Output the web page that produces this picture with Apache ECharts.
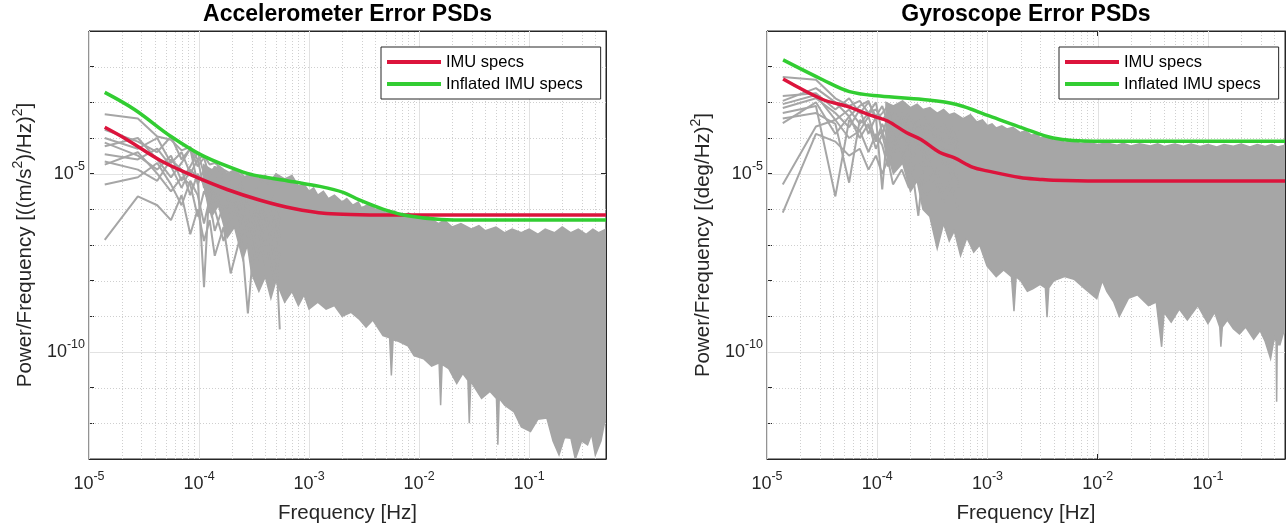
<!DOCTYPE html>
<html>
<head>
<meta charset="utf-8">
<script src="https://cdn.jsdelivr.net/npm/echarts@6/dist/echarts.min.js"></script>
<style>
html,body{margin:0;padding:0;background:#fff;}
#c{width:1288px;height:529px;}
</style>
</head>
<body>
<div id="c"></div>
<script>
// ---------------- DATA ----------------
const xTickLabels = ['10^-5','10^-4','10^-3','10^-2','10^-1'];
const yTickLabels = ['10^-5','10^-10'];
const xTickValues = [1e-5, 1e-4, 1e-3, 1e-2, 1e-1];
const yTickValues = [1e-5, 1e-10];
const yDecades = [1e-13, 1e-12, 1e-11, 1e-10, 1e-9, 1e-8, 1e-7, 1e-6, 1e-5, 1e-4, 1e-3, 1e-2, 1e-1];

// low-frequency PSD bins (individual gray lines)
const lowFreq = [1.39e-5, 2.78e-5, 4.17e-5, 5.56e-5, 6.94e-5, 8.33e-5, 9.72e-5, 1.11e-4, 1.25e-4, 1.39e-4, 1.67e-4, 1.94e-4, 2.36e-4, 2.78e-4, 3.33e-4, 4.03e-4, 4.86e-4, 5.42e-4];

// Accelerometer gray PSD lines
const accLow1 = [4.6e-4, 3.5e-4, 1.1e-4, 8.9e-5, 4.5e-5, 5.6e-5, 2.5e-5, 3.2e-5, 1.8e-5, 2.0e-5, 1.3e-5, 1.0e-5, 1.1e-5, 6.3e-6, 7.9e-6, 5.0e-6, 6.3e-6, 4.0e-6];
const accLow2 = [1.7e-4, 7.9e-5, 4.0e-5, 1.1e-4, 2.5e-5, 5.0e-5, 1.6e-5, 2.8e-5, 7.9e-6, 1.6e-5, 5.0e-6, 2.5e-6, 6.3e-6, 1.3e-6, 4.0e-6, 5.0e-7, 2.5e-6, 1.0e-6];
const accLow3 = [1.0e-4, 5.0e-5, 1.0e-4, 2.0e-5, 4.0e-5, 1.0e-5, 2.5e-5, 4.0e-6, 1.3e-5, 2.5e-6, 6.3e-6, 7.9e-7, 3.2e-6, 1.3e-6, 2.5e-7, 2.0e-6, 4.0e-7, 1.0e-6];
const accLow4 = [7.4e-5, 3.2e-5, 1.3e-5, 3.2e-5, 6.3e-6, 1.6e-5, 4.0e-5, 1.0e-5, 2.0e-6, 7.9e-6, 3.2e-6, 6.3e-6, 4.0e-7, 2.5e-6, 1.0e-6, 1.0e-7, 1.6e-6, 2.5e-7];
const accLow5 = [5.9e-5, 1.0e-4, 2.5e-5, 7.9e-6, 2.0e-5, 5.0e-5, 5.0e-6, 1.3e-5, 1.0e-5, 1.0e-6, 4.0e-6, 1.6e-6, 5.0e-6, 1.6e-7, 1.3e-6, 6.3e-7, 4.0e-8, 7.9e-7];
const accLow6 = [3.5e-5, 2.5e-5, 5.0e-5, 1.6e-5, 4.0e-6, 1.3e-5, 7.9e-6, 6.6e-9, 6.3e-6, 3.2e-6, 6.3e-7, 2.5e-6, 1.0e-6, 4.0e-7, 1.6e-6, 1.0e-7, 5.0e-7, 4.3e-10];
const accLow7 = [2.2e-5, 1.3e-5, 6.3e-6, 2.5e-5, 1.3e-5, 2.5e-6, 1.0e-5, 5.0e-6, 7.9e-7, 4.0e-6, 1.0e-5, 2.0e-6, 5.0e-7, 1.2e-9, 7.9e-7, 3.2e-7, 1.0e-6, 1.6e-7];
const accLow8 = [1.8e-5, 4.0e-5, 1.0e-5, 3.2e-6, 7.9e-6, 5.0e-6, 6.3e-7, 3.2e-6, 1.6e-6, 2.5e-7, 1.3e-6, 5.0e-7, 2.5e-6, 1.0e-6, 6.3e-8, 4.0e-7, 1.3e-7, 6.3e-7];
const accLow9 = [5.0e-6, 7.9e-6, 2.0e-5, 5.0e-6, 1.3e-6, 6.3e-6, 2.5e-6, 4.0e-7, 2.0e-6, 1.0e-6, 1.3e-7, 6.3e-7, 2.0e-6, 2.5e-7, 5.0e-7, 2.5e-8, 3.2e-7, 1.0e-7];
const accLow10 = [1.4e-7, 2.3e-6, 1.3e-6, 5.0e-7, 2.5e-6, 2.0e-7, 1.0e-6, 1.3e-7, 5.0e-7, 5.0e-8, 3.2e-7, 1.6e-8, 1.6e-7, 4.0e-7, 3.2e-8, 1.3e-7, 1.0e-8, 6.3e-8];

// Accelerometer dense band (upper / lower edge of the gray mass)
const accUpperFreq = [1.1e-4, 1.3e-4, 1.5e-4, 1.8e-4, 2.1e-4, 2.5e-4, 3e-4, 3.5e-4, 4e-4, 4.5e-4, 5e-4, 6e-4, 7e-4, 8e-4, 9e-4, 1e-3, 1.1e-3, 1.2e-3, 1.35e-3, 1.5e-3, 1.7e-3, 2e-3, 2.2e-3, 2.5e-3, 2.8e-3, 3e-3, 3.5e-3, 4e-3, 4.5e-3, 5e-3, 6e-3, 7e-3, 8e-3, 1e-2, 1.2e-2, 1.5e-2, 1.7e-2, 2e-2, 2.4e-2, 3e-2, 3.5e-2, 4e-2, 5e-2, 6e-2, 7e-2, 8.5e-2, 0.1, 0.12, 0.14, 0.17, 0.2, 0.24, 0.28, 0.33, 0.38, 0.43, 0.5];
const accUpper = [1.8e-5, 1.3e-5, 1.6e-5, 1.0e-5, 1.3e-5, 7.9e-6, 1.0e-5, 7.1e-6, 8.9e-6, 6.3e-6, 1.0e-5, 7.1e-6, 8.9e-6, 4.5e-6, 5.0e-6, 3.2e-6, 4.0e-6, 2.5e-6, 3.2e-6, 2.0e-6, 2.5e-6, 1.6e-6, 2.0e-6, 1.3e-6, 1.6e-6, 1.1e-6, 1.4e-6, 1.0e-6, 1.1e-6, 7.9e-7, 8.9e-7, 6.3e-7, 7.9e-7, 5.6e-7, 6.3e-7, 4.0e-7, 5.0e-7, 3.2e-7, 4.0e-7, 2.8e-7, 3.5e-7, 2.5e-7, 3.2e-7, 2.2e-7, 2.8e-7, 2.2e-7, 2.8e-7, 2.0e-7, 2.8e-7, 2.2e-7, 3.2e-7, 2.2e-7, 2.8e-7, 2.0e-7, 2.8e-7, 2.2e-7, 2.8e-7];
const accLowerFreq = [1.1e-4, 1.3e-4, 1.5e-4, 1.8e-4, 2.1e-4, 2.5e-4, 2.75e-4, 3e-4, 3.5e-4, 4e-4, 4.5e-4, 5e-4, 6e-4, 7e-4, 8e-4, 9e-4, 1e-3, 1.2e-3, 1.43e-3, 1.7e-3, 2e-3, 2.4e-3, 2.84e-3, 3.3e-3, 3.8e-3, 4.7e-3, 5.4e-3, 5.6e-3, 5.8e-3, 6.5e-3, 7.9e-3, 9e-3, 1.1e-2, 1.3e-2, 1.52e-2, 1.57e-2, 1.62e-2, 1.86e-2, 2.2e-2, 2.5e-2, 2.78e-2, 2.86e-2, 2.95e-2, 3.7e-2, 4.4e-2, 5.05e-2, 5.2e-2, 5.35e-2, 6e-2, 7.3e-2, 8.5e-2, 0.103, 0.12, 0.145, 0.165, 0.187, 0.21, 0.24, 0.263, 0.3, 0.34, 0.37, 0.40, 0.45, 0.5];
const accLower = [5.0e-6, 6.3e-7, 1.3e-6, 1.6e-7, 3.2e-7, 4.0e-8, 1.0e-7, 1.6e-8, 5.0e-9, 1.3e-8, 3.2e-9, 1.0e-8, 2.5e-9, 5.0e-9, 2.0e-9, 4.0e-9, 1.6e-9, 2.5e-9, 1.6e-9, 2.0e-9, 1.0e-9, 1.3e-9, 8.5e-10, 5.0e-10, 7.9e-10, 2.9e-10, 2.5e-10, 2.2e-11, 2.2e-10, 2.0e-10, 1.5e-10, 7.9e-11, 6.5e-11, 4.0e-11, 5.0e-11, 3.2e-12, 4.5e-11, 3.4e-11, 1.3e-11, 2.5e-11, 1.6e-11, 1.0e-12, 1.5e-11, 5.0e-12, 7.9e-12, 5.0e-12, 2.5e-13, 5.0e-12, 3.2e-12, 2.1e-12, 7.9e-13, 5.9e-13, 1.3e-12, 1.4e-12, 3.2e-13, 1.3e-13, 4.0e-13, 3.8e-13, 1.0e-13, 3.2e-13, 2.5e-13, 5.0e-13, 1.3e-13, 3.2e-13, 1.7e-12];

// Accelerometer spec curves
const accSpecFreq = [1.39e-5, 2.2e-5, 4.5e-5, 9e-5, 1.8e-4, 3.6e-4, 7.2e-4, 1.44e-3, 2.9e-3, 6e-3, 2e-2, 0.1, 0.5];
const accSpec = [2.0e-4, 9.1e-5, 2.3e-5, 8.5e-6, 3.6e-6, 1.8e-6, 1.05e-6, 7.6e-7, 7.1e-7, 6.9e-7, 6.9e-7, 6.9e-7, 6.9e-7];
const accInflFreq = [1.39e-5, 2.59e-5, 5.57e-5, 1.1e-4, 2.6e-4, 3.55e-4, 7.2e-4, 1.25e-3, 2.04e-3, 2.9e-3, 4.75e-3, 7.9e-3, 1.58e-2, 3e-2, 0.1, 0.5];
const accInfl = [1.9e-3, 6.3e-4, 1.1e-4, 3.1e-5, 1.07e-5, 8.5e-6, 5.9e-6, 4.4e-6, 3.0e-6, 1.8e-6, 1.0e-6, 6.6e-7, 5.2e-7, 5.0e-7, 5.0e-7, 5.0e-7];

// Gyroscope gray PSD lines
const gyrLow1 = [5.1e-3, 4.3e-3, 1.3e-3, 7.9e-4, 1.1e-3, 5.0e-4, 6.3e-4, 3.2e-4, 5.0e-4, 2.5e-4, 4.0e-4, 1.6e-4, 3.2e-4, 1.3e-4, 2.5e-4, 7.9e-5, 2.0e-4, 6.3e-5];
const gyrLow2 = [1.5e-3, 1.8e-3, 6.3e-4, 1.3e-3, 5.0e-4, 1.0e-3, 4.0e-4, 7.9e-4, 2.5e-4, 6.3e-4, 2.0e-4, 5.0e-4, 1.3e-4, 4.0e-4, 1.0e-4, 2.5e-4, 6.3e-5, 1.6e-4];
const gyrLow3 = [1.1e-3, 2.5e-3, 1.0e-3, 4.0e-4, 7.9e-4, 1.1e-3, 3.2e-4, 5.0e-4, 7.9e-4, 1.6e-4, 5.0e-4, 7.9e-5, 3.2e-4, 1.6e-4, 3.2e-5, 2.0e-4, 1.0e-4, 2.5e-5];
const gyrLow4 = [8.9e-4, 1.6e-3, 3.2e-4, 6.3e-4, 2.5e-4, 5.0e-4, 1.0e-3, 1.3e-4, 4.0e-4, 7.8e-4, 1.0e-4, 3.2e-4, 4.0e-5, 2.5e-4, 1.3e-4, 1.6e-5, 1.6e-4, 5.0e-5];
const gyrLow5 = [6.9e-4, 1.3e-3, 5.0e-4, 2.0e-4, 6.3e-4, 1.3e-4, 4.0e-4, 3.6e-6, 2.5e-4, 1.3e-4, 3.2e-4, 5.0e-5, 2.0e-4, 2.5e-5, 1.0e-4, 5.0e-5, 6.3e-6, 7.9e-5];
const gyrLow6 = [5.0e-4, 7.9e-4, 2.3e-6, 3.2e-4, 1.6e-4, 4.0e-4, 7.9e-5, 2.5e-4, 1.0e-4, 4.0e-5, 1.6e-4, 6.3e-5, 6.6e-7, 1.0e-4, 3.2e-5, 6.3e-5, 1.3e-5, 4.0e-5];
const gyrLow7 = [3.5e-4, 5.0e-4, 2.5e-4, 5.6e-6, 3.2e-4, 2.0e-4, 1.0e-4, 1.6e-4, 5.0e-5, 1.3e-4, 3.2e-5, 7.9e-5, 1.0e-4, 1.6e-5, 5.0e-5, 2.5e-5, 4.0e-5, 4.0e-6];
const gyrLow8 = [2.6e-4, 1.0e-3, 1.3e-4, 4.0e-4, 1.0e-4, 2.5e-4, 5.0e-5, 1.3e-4, 2.5e-5, 7.9e-5, 4.0e-5, 1.6e-5, 6.3e-5, 3.2e-5, 7.9e-6, 2.5e-5, 1.0e-5, 2.0e-5];
const gyrLow9 = [5.0e-6, 2.1e-4, 3.2e-4, 1.0e-4, 1.6e-4, 4.0e-5, 1.3e-4, 6.3e-5, 1.6e-5, 5.0e-5, 2.5e-5, 1.0e-5, 2.0e-5, 5.0e-6, 1.6e-5, 2.5e-6, 1.0e-5, 5.0e-6];
const gyrLow10 = [8.1e-7, 1.3e-4, 7.9e-5, 3.2e-5, 5.0e-5, 1.3e-5, 3.2e-5, 1.0e-5, 2.5e-5, 5.0e-6, 1.3e-5, 4.0e-6, 7.9e-6, 2.5e-6, 6.3e-6, 1.6e-6, 4.0e-6, 1.0e-6];

// Gyroscope dense band
const gyrUpperFreq = [1.2e-4, 1.4e-4, 1.7e-4, 2e-4, 2.3e-4, 2.6e-4, 3e-4, 3.5e-4, 4e-4, 4.5e-4, 5e-4, 6e-4, 7e-4, 8e-4, 9e-4, 1e-3, 1.1e-3, 1.2e-3, 1.35e-3, 1.5e-3, 1.7e-3, 2e-3, 2.2e-3, 2.5e-3, 2.8e-3, 3e-3, 3.5e-3, 4e-3, 4.5e-3, 5e-3, 6e-3, 7e-3, 8e-3, 1e-2, 1.2e-2, 1.5e-2, 1.7e-2, 2e-2, 2.4e-2, 3e-2, 3.5e-2, 4e-2, 5e-2, 6e-2, 7e-2, 8.5e-2, 0.1, 0.12, 0.14, 0.17, 0.2, 0.24, 0.28, 0.33, 0.38, 0.43, 0.5];
const gyrUpper = [1.0e-3, 7.9e-4, 1.1e-3, 7.1e-4, 8.9e-4, 6.3e-4, 7.1e-4, 5.0e-4, 6.3e-4, 4.5e-4, 5.0e-4, 3.5e-4, 4.5e-4, 2.8e-4, 3.2e-4, 2.2e-4, 2.5e-4, 1.9e-4, 2.2e-4, 1.8e-4, 2.0e-4, 1.4e-4, 1.6e-4, 1.2e-4, 1.3e-4, 1.0e-4, 1.1e-4, 8.5e-5, 9.5e-5, 7.6e-5, 8.3e-5, 6.9e-5, 7.6e-5, 6.6e-5, 7.2e-5, 6.3e-5, 7.1e-5, 6.0e-5, 6.9e-5, 6.0e-5, 6.9e-5, 5.8e-5, 6.8e-5, 5.9e-5, 6.8e-5, 5.8e-5, 6.6e-5, 5.6e-5, 6.6e-5, 5.9e-5, 6.8e-5, 5.6e-5, 6.6e-5, 5.8e-5, 6.6e-5, 5.6e-5, 6.3e-5];
const gyrLowerFreq = [1.2e-4, 1.4e-4, 1.7e-4, 2e-4, 2.3e-4, 2.6e-4, 3e-4, 3.5e-4, 4e-4, 4.5e-4, 5e-4, 5.7e-4, 6.5e-4, 7.5e-4, 8.5e-4, 9.9e-4, 1.2e-3, 1.4e-3, 1.65e-3, 1.74e-3, 1.82e-3, 2.0e-3, 2.3e-3, 2.57e-3, 3.0e-3, 3.35e-3, 3.47e-3, 3.6e-3, 4.0e-3, 5.0e-3, 6.1e-3, 7.5e-3, 9.8e-3, 1.1e-2, 1.21e-2, 1.4e-2, 1.57e-2, 1.9e-2, 2.3e-2, 2.89e-2, 3.4e-2, 3.8e-2, 4.0e-2, 4.64e-2, 5.5e-2, 6.5e-2, 8.1e-2, 0.1, 0.115, 0.128, 0.131, 0.135, 0.15, 0.17, 0.193, 0.22, 0.26, 0.297, 0.33, 0.37, 0.4, 0.415, 0.42, 0.425, 0.45, 0.48, 0.5];
const gyrLower = [5.0e-5, 1.0e-5, 2.0e-5, 3.2e-6, 6.3e-6, 1.0e-6, 6.3e-7, 7.9e-8, 4.0e-7, 1.3e-7, 2.5e-7, 5.0e-8, 1.6e-7, 6.3e-8, 1.0e-7, 2.6e-8, 1.3e-8, 2.0e-8, 1.3e-8, 1.4e-9, 1.3e-8, 1.0e-8, 5.0e-9, 5.9e-9, 7.9e-9, 6.3e-9, 9.5e-10, 6.3e-9, 1.0e-8, 1.3e-8, 1.1e-8, 6.3e-9, 3.1e-9, 1.0e-8, 5.0e-9, 2.5e-9, 1.0e-9, 3.2e-9, 4.0e-9, 2.0e-9, 2.5e-9, 1.4e-10, 1.3e-9, 6.9e-10, 1.6e-9, 7.9e-10, 2.0e-9, 6.3e-10, 1.3e-9, 5.0e-10, 1.4e-10, 5.0e-10, 7.9e-10, 4.5e-10, 3.2e-10, 5.0e-10, 2.3e-10, 4.0e-10, 2.0e-10, 6.5e-11, 2.5e-10, 2.0e-10, 4.0e-12, 1.6e-10, 1.6e-10, 3.2e-10, 3.6e-10];

// Gyroscope spec curves
const gyrSpecFreq = [1.4e-5, 3.2e-5, 5.25e-5, 9.2e-5, 1.24e-4, 1.85e-4, 2.49e-4, 3.7e-4, 4.97e-4, 7.4e-4, 9.9e-4, 1.98e-3, 3e-3, 3.95e-3, 1e-2, 0.1, 0.5];
const gyrSpec = [4.5e-3, 1.2e-3, 7.8e-4, 4.1e-4, 3.0e-4, 1.4e-4, 9.1e-5, 3.9e-5, 2.8e-5, 1.5e-5, 1.2e-5, 7.8e-6, 6.9e-6, 6.5e-6, 6.2e-6, 6.2e-6, 6.2e-6];
const gyrInflFreq = [1.4e-5, 3.2e-5, 5.6e-5, 1.06e-4, 2.6e-4, 5.25e-4, 1.05e-3, 2.1e-3, 3.95e-3, 9.4e-3, 0.1, 0.5];
const gyrInfl = [1.55e-2, 4.3e-3, 2.0e-3, 1.5e-3, 1.2e-3, 8.7e-4, 4.1e-4, 1.9e-4, 1.0e-4, 8.1e-5, 8.1e-5, 8.1e-5];

// ---------------- CHART ----------------
const FONT = '"Liberation Sans", Arial, Helvetica, sans-serif';
const AX = '#262626';
const GRAY = '#a6a6a6';
const RED = '#dc143c';
const GREEN = '#32cd32';
const X_MIN = 1e-5, X_MAX = 0.5, Y_MIN = 1e-13, Y_MAX = 1e-1;

const grids = [
  {left: 89, top: 31, width: 517, height: 430},
  {left: 767, top: 31, width: 518, height: 430}
];

function zip(fs, vs) { return fs.map((f, i) => [f, vs[i]]); }

function decadeLabel(v, allowed) {
  const lg = Math.log10(v);
  const e = Math.round(lg);
  if (Math.abs(lg - e) > 1e-3) return '';
  const key = '10^' + e;
  if (allowed.indexOf(key) < 0) return '';
  return '{b|10}{s|' + e + '}';
}

const labelRich = {
  b: {fontSize: 18, fontFamily: FONT, color: AX, lineHeight: 26},
  s: {fontSize: 12.5, fontFamily: FONT, color: AX, lineHeight: 12, padding: [0, 0, 14, 0]}
};
const nameRich = {
  n: {fontSize: 20.5, fontFamily: FONT, color: AX, lineHeight: 28},
  s: {fontSize: 14, fontFamily: FONT, color: AX, lineHeight: 14, padding: [0, 0, 14, 0]}
};

// minor x grid positions (2..9 within each decade)
const xMinor = [];
for (let d = -5; d <= -1; d++) for (let m = 2; m <= 9; m++) { const v = m * Math.pow(10, d); if (v < X_MAX) xMinor.push(v); }

function xAxisMain(gi) {
  return {
    type: 'log', logBase: 10, gridIndex: gi, min: X_MIN, max: X_MAX, position: 'bottom',
    name: 'Frequency [Hz]', nameLocation: 'middle', nameGap: 44,
    nameTextStyle: {fontSize: 20.5, fontFamily: FONT, color: AX},
    axisLine: {show: true, lineStyle: {color: AX, width: 1}},
    axisTick: {show: true, inside: true, length: 5, lineStyle: {color: AX}, customValues: xTickValues},
    axisLabel: {show: true, margin: 12, customValues: xTickValues, formatter: v => decadeLabel(v, xTickLabels), rich: labelRich, showMaxLabel: true, showMinLabel: true},
    splitLine: {show: false}
  };
}
function xAxisTop(gi) {
  return {
    type: 'log', logBase: 10, gridIndex: gi, min: X_MIN, max: X_MAX, position: 'top',
    axisLine: {show: true, lineStyle: {color: AX, width: 1}},
    axisTick: {show: true, inside: true, length: 5, lineStyle: {color: AX}, customValues: xTickValues},
    axisLabel: {show: false}, splitLine: {show: false}
  };
}
function yAxisMain(gi, nameRichStr) {
  return {
    type: 'log', logBase: 10, gridIndex: gi, min: Y_MIN, max: Y_MAX, position: 'left',
    name: nameRichStr, nameLocation: 'middle', nameGap: 50, nameRotate: 90,
    nameTextStyle: {rich: nameRich},
    axisLine: {show: true, lineStyle: {color: AX, width: 1}},
    axisTick: {show: true, inside: true, length: 5, lineStyle: {color: AX}, customValues: yDecades},
    axisLabel: {show: true, margin: 4, customValues: yTickValues, formatter: v => decadeLabel(v, yTickLabels), rich: labelRich, showMinLabel: true, showMaxLabel: true},
    splitLine: {show: false}
  };
}
function yAxisRight(gi) {
  return {
    type: 'log', logBase: 10, gridIndex: gi, min: Y_MIN, max: Y_MAX, position: 'right',
    axisLine: {show: true, lineStyle: {color: AX, width: 1}},
    axisTick: {show: true, inside: true, length: 5, lineStyle: {color: AX}, customValues: yTickValues},
    axisLabel: {show: false}, splitLine: {show: false}
  };
}

// grid lines drawn through the axes' own scales
function gridLines(ai) {
  return {
    type: 'custom', xAxisIndex: ai, yAxisIndex: ai, silent: true, z: 1,
    data: [[1e-3, 1e-5]],
    renderItem: function (params, api) {
      const children = [];
      const minor = {stroke: '#cfcfcf', lineWidth: 1, lineDash: [1, 2], fill: null};
      const major = {stroke: '#e2e2e2', lineWidth: 1, fill: null};
      xMinor.forEach(v => {
        const a = api.coord([v, Y_MIN]), b = api.coord([v, Y_MAX]);
        children.push({type: 'line', shape: {x1: Math.round(a[0]) + 0.5, y1: a[1], x2: Math.round(b[0]) + 0.5, y2: b[1]}, style: minor});
      });
      xTickValues.forEach(v => {
        const a = api.coord([v, Y_MIN]), b = api.coord([v, Y_MAX]);
        children.push({type: 'line', shape: {x1: Math.round(a[0]) + 0.5, y1: a[1], x2: Math.round(b[0]) + 0.5, y2: b[1]}, style: major});
      });
      yDecades.forEach(v => {
        if (v <= Y_MIN || v >= Y_MAX) return;
        const a = api.coord([X_MIN, v]), b = api.coord([X_MAX, v]);
        const st = yTickValues.indexOf(v) >= 0 ? major : minor;
        children.push({type: 'line', shape: {x1: a[0], y1: Math.round(a[1]) + 0.5, x2: b[0], y2: Math.round(b[1]) + 0.5}, style: st});
      });
      return {type: 'group', children: children};
    }
  };
}

function grayLine(ai, vals) {
  return {
    type: 'line', xAxisIndex: ai, yAxisIndex: ai, data: zip(lowFreq, vals), showSymbol: false, symbol: 'none',
    silent: true, z: 2, lineStyle: {color: GRAY, width: 2}, itemStyle: {color: GRAY}
  };
}

function band(ai, upF, upV, loF, loV) {
  return {
    type: 'custom', xAxisIndex: ai, yAxisIndex: ai, silent: true, z: 2, clip: true,
    data: [[upF[0], upV[0]]],
    renderItem: function (params, api) {
      const pts = [];
      for (let i = 0; i < upF.length; i++) pts.push(api.coord([upF[i], upV[i]]));
      for (let i = loF.length - 1; i >= 0; i--) pts.push(api.coord([loF[i], loV[i]]));
      return {type: 'polygon', shape: {points: pts}, style: {fill: GRAY, stroke: GRAY, lineWidth: 1.5}};
    }
  };
}

function specLine(ai, name, fs, vs, color) {
  return {
    type: 'line', name: name, xAxisIndex: ai, yAxisIndex: ai, data: zip(fs, vs), smooth: 0.35,
    showSymbol: false, symbol: 'none', silent: true, z: 3,
    lineStyle: {color: color, width: 3.5}, itemStyle: {color: color}
  };
}

const accLows = [accLow1, accLow2, accLow3, accLow4, accLow5, accLow6, accLow7, accLow8, accLow9, accLow10];
const gyrLows = [gyrLow1, gyrLow2, gyrLow3, gyrLow4, gyrLow5, gyrLow6, gyrLow7, gyrLow8, gyrLow9, gyrLow10];

const series = [gridLines(0), gridLines(1)];
accLows.forEach(a => series.push(grayLine(0, a)));
gyrLows.forEach(a => series.push(grayLine(1, a)));
series.push(band(0, accUpperFreq, accUpper, accLowerFreq, accLower));
series.push(band(1, gyrUpperFreq, gyrUpper, gyrLowerFreq, gyrLower));
series.push(specLine(0, 'IMU specs', accSpecFreq, accSpec, RED));
series.push(specLine(0, 'Inflated IMU specs', accInflFreq, accInfl, GREEN));
series.push(specLine(1, 'IMU specs', gyrSpecFreq, gyrSpec, RED));
series.push(specLine(1, 'Inflated IMU specs', gyrInflFreq, gyrInfl, GREEN));

function legendAt(left) {
  return {
    data: ['IMU specs', 'Inflated IMU specs'], orient: 'vertical', left: left, top: 47,
    icon: 'rect', itemWidth: 54, itemHeight: 4, itemGap: 4,
    padding: [6, 18, 6, 6], backgroundColor: '#fff', borderColor: AX, borderWidth: 1,
    selectedMode: false,
    textStyle: {fontSize: 16.5, fontFamily: FONT, color: '#000', lineHeight: 18}
  };
}

const option = {
  backgroundColor: '#fff',
  animation: false,
  grid: grids.map(g => Object.assign({show: true, borderColor: AX, borderWidth: 1, backgroundColor: 'transparent'}, g)),
  xAxis: [xAxisMain(0), xAxisMain(1), xAxisTop(0), xAxisTop(1)],
  yAxis: [
    yAxisMain(0, '{n|Power/Frequency [((m/s}{s|2}{n|)/Hz)}{s|2}{n|]}'),
    yAxisMain(1, '{n|Power/Frequency [(deg/Hz)}{s|2}{n|]}'),
    yAxisRight(0), yAxisRight(1)
  ],
  legend: [legendAt(381), legendAt(1059)],
  graphic: [
    {type: 'text', x: 347.5, y: 15, style: {text: 'Accelerometer Error PSDs', font: 'bold 23px ' + FONT, fill: '#000', align: 'center', verticalAlign: 'middle'}},
    {type: 'text', x: 1026, y: 15, style: {text: 'Gyroscope Error PSDs', font: 'bold 23px ' + FONT, fill: '#000', align: 'center', verticalAlign: 'middle'}}
  ],
  series: series
};

const chart = echarts.init(document.getElementById('c'), null, {renderer: 'canvas'});
chart.setOption(option);
</script>
</body>
</html>
